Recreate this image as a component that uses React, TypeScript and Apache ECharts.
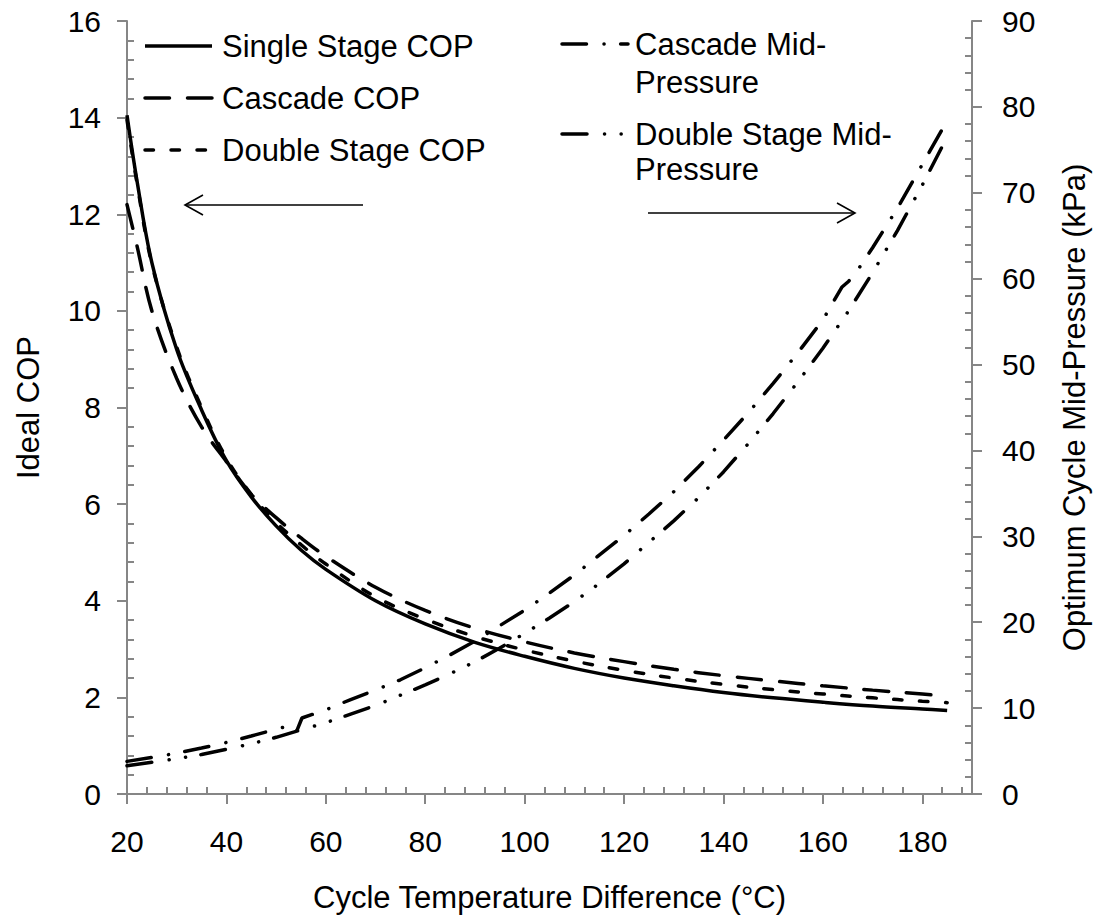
import React, { useEffect, useRef } from 'react';
import * as echarts from 'echarts';

// ---- data ----
const xTickValues = [20, 40, 60, 80, 100, 120, 140, 160, 180];

const copX = [20, 22, 25, 30, 35, 40, 45, 50, 55, 60, 70, 80, 90, 100, 110, 120, 130, 140, 150, 160, 170, 180, 185];
const singleStageCOP = [14.05, 12.7, 11.0, 9.2, 7.95, 6.9, 6.15, 5.55, 5.05, 4.65, 4.0, 3.52, 3.14, 2.85, 2.6, 2.4, 2.24, 2.1, 1.99, 1.9, 1.82, 1.76, 1.73];
const cascadeCOP = [12.2, 11.35, 10.0, 8.6, 7.6, 6.88, 6.2, 5.72, 5.3, 4.92, 4.28, 3.8, 3.43, 3.15, 2.92, 2.74, 2.58, 2.45, 2.34, 2.24, 2.15, 2.07, 2.02];
const doubleStageCOP = [13.95, 12.65, 10.97, 9.25, 8.0, 6.95, 6.2, 5.62, 5.16, 4.76, 4.08, 3.62, 3.26, 2.98, 2.75, 2.56, 2.4, 2.27, 2.16, 2.07, 1.99, 1.92, 1.89];

const cascadePX = [20, 25, 30, 35, 40, 45, 50, 53, 54.2, 55.2, 60, 65, 70, 75, 80, 85, 90, 95, 100, 105, 110, 115, 120, 125, 130, 135, 140, 145, 150, 155, 160, 163.8, 165.2, 167, 170, 175, 180, 185];
const cascadeMidP = [3.8, 4.25, 4.75, 5.35, 6.0, 6.75, 7.55, 8.0, 7.4, 8.85, 9.8, 11.0, 12.1, 13.3, 14.7, 16.2, 17.8, 19.6, 21.4, 23.4, 25.5, 27.8, 30.1, 32.6, 35.2, 38.1, 41.2, 44.4, 47.8, 51.4, 55.2, 59.0, 59.7, 61.0, 63.6, 68.2, 73.3, 78.4];

const doublePX = [20, 25, 30, 35, 40, 45, 50, 54, 55, 60, 65, 70, 75, 80, 85, 90, 95, 100, 105, 110, 115, 120, 125, 130, 135, 140, 145, 150, 155, 160, 165, 170, 175, 180, 185];
const doubleMidP = [3.3, 3.7, 4.1, 4.6, 5.2, 5.85, 6.6, 7.3, 7.45, 8.3, 9.3, 10.3, 11.5, 12.7, 14.0, 15.4, 17.0, 18.7, 20.5, 22.4, 24.5, 26.8, 29.3, 31.8, 34.5, 37.5, 40.8, 44.3, 48.0, 51.9, 56.1, 60.7, 65.6, 70.9, 76.5];

const seriesNames = ['Single Stage COP', 'Cascade COP', 'Double Stage COP', 'Cascade Mid-Pressure', 'Double Stage Mid-Pressure'];

// ---- styles ----
const FONT = 'Liberation Sans, Arial, sans-serif';
const AXIS_GRAY = '#868686';
const LINE_W = 3.5;
const DASH_LONG = [24.5, 18];
const DASH_SHORT = [8.5, 17.5];
const DASH_DOT = [24.5, 17.5, 0.1, 16.5];
const DASH_DOT_DOT = [25, 17.5, 0.1, 16.5, 0.1, 15.5];

const pair = (xs: number[], ys: number[]) => xs.map((x, i) => [x, ys[i]]);

function axisCommon() {
  return {
    axisLine: { show: true, lineStyle: { color: AXIS_GRAY, width: 2 } },
    axisTick: { show: true, inside: false, length: 10, lineStyle: { color: AXIS_GRAY, width: 2 } },
    minorTick: { show: true, splitNumber: 5, length: -7, lineStyle: { color: AXIS_GRAY, width: 2 } },
    splitLine: { show: false },
    minorSplitLine: { show: false },
  };
}

function legendItem(x1: number, x2: number, y: number, dash: number[] | null) {
  return {
    type: 'line',
    shape: { x1, y1: y, x2, y2: y },
    style: { stroke: '#000', lineWidth: LINE_W, lineDash: dash || undefined, lineCap: dash ? 'round' : 'butt' },
    z: 100,
  };
}

function legendText(x: number, y: number, text: string) {
  return {
    type: 'text',
    x,
    y,
    style: { text, fill: '#000', font: `31px ${FONT}`, fontSize: 31, fontFamily: FONT, verticalAlign: 'middle', align: 'left' },
    z: 100,
  };
}

function arrow(x1: number, x2: number, y: number) {
  const dir = x2 > x1 ? 1 : -1;
  return [
    { type: 'line', shape: { x1, y1: y, x2, y2: y }, style: { stroke: '#000', lineWidth: 1.6 }, z: 100 },
    {
      type: 'polyline',
      shape: { points: [[x2 - dir * 18, y - 10], [x2, y], [x2 - dir * 18, y + 10]] },
      style: { stroke: '#000', lineWidth: 1.6, fill: null },
      z: 100,
    },
  ];
}

export default function App() {
  const ref = useRef<HTMLDivElement>(null);

  useEffect(() => {
    const chart = echarts.init(ref.current!, null, { renderer: 'svg' });
    const labelStyle = { fontSize: 30, color: '#000', fontFamily: FONT };
    const nameStyle = { fontSize: 31, color: '#000', fontFamily: FONT };

    const option: any = {
      animation: false,
      backgroundColor: '#fff',
      grid: { left: 127, right: 129, top: 21, bottom: 127, containLabel: false },
      xAxis: [
        {
          type: 'value',
          position: 'bottom',
          min: 20,
          max: 190,
          interval: 20,
          ...axisCommon(),
          axisTick: { show: true, inside: false, length: 10, lineStyle: { color: AXIS_GRAY, width: 2 }, customValues: xTickValues },
          axisLabel: { ...labelStyle, margin: 32, customValues: xTickValues, formatter: (v: number) => (v === 190 ? '' : String(v)) },
          name: 'Cycle Temperature Difference (°C)',
          nameLocation: 'middle',
          nameGap: 88,
          nameTextStyle: nameStyle,
        },
        {
          type: 'value',
          position: 'top',
          min: 20,
          max: 190,
          axisLine: { show: true, lineStyle: { color: AXIS_GRAY, width: 2 } },
          axisTick: { show: false },
          axisLabel: { show: false },
          splitLine: { show: false },
        },
      ],
      yAxis: [
        {
          type: 'value',
          position: 'left',
          min: 0,
          max: 16,
          interval: 2,
          ...axisCommon(),
          axisLabel: { ...labelStyle, margin: 26 },
          name: 'Ideal COP',
          nameLocation: 'middle',
          nameRotate: 90,
          nameGap: 83,
          nameTextStyle: nameStyle,
        },
        {
          type: 'value',
          position: 'right',
          min: 0,
          max: 90,
          interval: 10,
          ...axisCommon(),
          axisLabel: { ...labelStyle, margin: 30 },
          name: 'Optimum Cycle Mid-Pressure (kPa)',
          nameLocation: 'middle',
          nameRotate: 90,
          nameGap: 87,
          nameTextStyle: nameStyle,
        },
      ],
      series: [
        {
          name: seriesNames[0], type: 'line', yAxisIndex: 0, showSymbol: false, symbol: 'none',
          smooth: 0.35,
          lineStyle: { color: '#000', width: LINE_W, type: 'solid' },
          data: pair(copX, singleStageCOP),
        },
        {
          name: seriesNames[1], type: 'line', yAxisIndex: 0, showSymbol: false, symbol: 'none',
          smooth: 0.35,
          lineStyle: { color: '#000', width: LINE_W, type: DASH_LONG, cap: 'round' },
          data: pair(copX, cascadeCOP),
        },
        {
          name: seriesNames[2], type: 'line', yAxisIndex: 0, showSymbol: false, symbol: 'none',
          smooth: 0.35,
          lineStyle: { color: '#000', width: LINE_W, type: DASH_SHORT, cap: 'round' },
          data: pair(copX, doubleStageCOP),
        },
        {
          name: seriesNames[3], type: 'line', yAxisIndex: 1, showSymbol: false, symbol: 'none',
          lineStyle: { color: '#000', width: LINE_W, type: DASH_DOT, cap: 'round' },
          data: pair(cascadePX, cascadeMidP),
        },
        {
          name: seriesNames[4], type: 'line', yAxisIndex: 1, showSymbol: false, symbol: 'none',
          lineStyle: { color: '#000', width: LINE_W, type: DASH_DOT_DOT, cap: 'round' },
          data: pair(doublePX, doubleMidP),
        },
      ],
      graphic: [
        legendItem(145, 212, 46, null),
        legendText(222, 46, seriesNames[0]),
        legendItem(145, 212, 98, DASH_LONG),
        legendText(222, 98, seriesNames[1]),
        legendItem(145, 212, 150, DASH_SHORT),
        legendText(222, 150, seriesNames[2]),
        legendItem(562, 628, 44, DASH_DOT),
        legendText(635, 44, 'Cascade Mid-'),
        legendText(635, 82, 'Pressure'),
        legendItem(562, 628, 134, DASH_DOT_DOT),
        legendText(635, 134, 'Double Stage Mid-'),
        legendText(635, 169, 'Pressure'),
        ...arrow(363, 185, 205),
        ...arrow(648, 855, 213),
      ],
    };

    chart.setOption(option);
    return () => chart.dispose();
  }, []);

  return (
    <div
      ref={ref}
      style={{ position: 'fixed', left: 0, top: 0, width: 1101, height: 921, background: '#fff' }}
    />
  );
}
